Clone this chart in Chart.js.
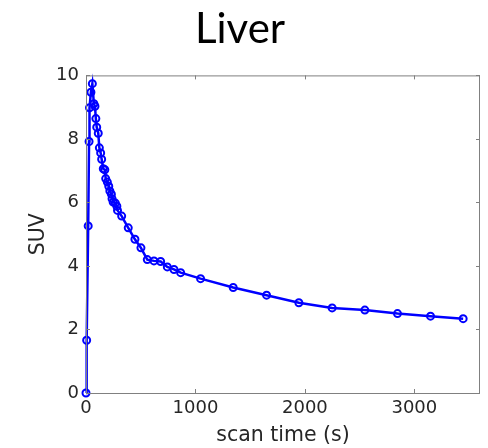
<!DOCTYPE html>
<html>
<head>
<meta charset="utf-8">
<script src="https://cdn.jsdelivr.net/npm/chart.js@4"></script>
<style>
  html, body { margin: 0; padding: 0; background: #fff; }
  #wrap { width: 488px; height: 448px; }
</style>
</head>
<body>
<div id="wrap"><canvas id="c" width="488" height="448"></canvas></div>
<script>
// Liver time-activity curve
const scanTime = [0, 6, 20, 28, 32, 45, 58, 72, 82, 90, 98, 112, 122, 134, 143, 158, 172, 180, 195, 208,
  218, 232, 238, 248, 268, 282, 288, 326, 386, 447, 502, 560, 621, 682, 743, 804, 865,
  1047, 1345, 1650, 1945, 2249, 2548, 2846, 3148, 3446];
const suv = [0, 1.66, 5.26, 7.92, 8.98, 9.47, 9.74, 9.11, 9.03, 8.64, 8.37, 8.18, 7.72, 7.56, 7.36, 7.06, 7.03, 6.75, 6.64, 6.51,
  6.36, 6.26, 6.12, 6.01, 5.98, 5.88, 5.75, 5.57, 5.2, 4.84, 4.57, 4.2, 4.16, 4.14, 3.97, 3.89, 3.79,
  3.6, 3.32, 3.08, 2.84, 2.68, 2.61, 2.5, 2.42, 2.34];
const xTicks = [0, 1000, 2000, 3000];
const yTicks = [0, 2, 4, 6, 8, 10];

const axisColor = '#808080';
const textColor = '#262626';
const tickFont = { family: 'DejaVu Sans', size: 18 };
const labelFont = { family: 'DejaVu Sans', size: 20.5 };

// Box around the plot with inward ticks on all four sides
const boxTicks = {
  id: 'boxTicks',
  afterDraw(chart) {
    const { ctx, chartArea: a, scales: { x, y } } = chart;
    ctx.save();
    ctx.strokeStyle = axisColor;
    ctx.lineWidth = 1;
    ctx.strokeRect(a.left + 0.5, a.top + 0.5, a.right - a.left - 1, a.bottom - a.top);
    const len = 4;
    ctx.beginPath();
    xTicks.forEach(v => {
      const px = Math.round(x.getPixelForValue(v)) + 0.5;
      ctx.moveTo(px, a.bottom); ctx.lineTo(px, a.bottom - len);
      ctx.moveTo(px, a.top); ctx.lineTo(px, a.top + len);
    });
    yTicks.forEach(v => {
      const py = Math.round(y.getPixelForValue(v)) + 0.5;
      ctx.moveTo(a.left, py); ctx.lineTo(a.left + len, py);
      ctx.moveTo(a.right, py); ctx.lineTo(a.right - len, py);
    });
    ctx.stroke();
    ctx.restore();
  }
};

new Chart(document.getElementById('c'), {
  type: 'line',
  data: {
    datasets: [{
      data: scanTime.map((t, i) => ({ x: t, y: suv[i] })),
      borderColor: '#0000ff',
      borderWidth: 2.5,
      pointRadius: 3.5,
      pointBorderWidth: 2,
      pointBorderColor: '#0000ff',
      pointBackgroundColor: 'rgba(255,255,255,0)',
      tension: 0,
      clip: false
    }]
  },
  options: {
    responsive: false,
    animation: false,
    layout: { padding: { top: 0, right: 8, bottom: 0, left: 0 } },
    plugins: {
      legend: { display: false },
      tooltip: { enabled: false },
      title: {
        display: true,
        text: 'Liver',
        color: '#000',
        font: { family: 'Lato', size: 42, weight: 'normal', lineHeight: 1.2 },
        padding: { top: 4, bottom: 21 }
      }
    },
    scales: {
      x: {
        type: 'linear',
        min: 0, max: 3600,
        afterBuildTicks(s) { s.ticks = xTicks.map(v => ({ value: v })); },
        afterFit(s) { s.height = 55; },
        grid: { display: false, drawTicks: false },
        border: { display: false },
        ticks: { color: textColor, font: tickFont, padding: 5, maxRotation: 0,
          callback: v => String(v) },
        title: { display: true, text: 'scan time (s)', color: textColor,
          font: labelFont, padding: { top: 0, bottom: 0 } }
      },
      y: {
        type: 'linear',
        min: 0, max: 10,
        afterBuildTicks(s) { s.ticks = yTicks.map(v => ({ value: v })); },
        afterFit(s) { s.width = 86; },
        grid: { display: false, drawTicks: false },
        border: { display: false },
        ticks: { color: textColor, font: tickFont, padding: 7, callback: v => String(v) },
        title: { display: true, text: 'SUV', color: textColor,
          font: labelFont, padding: { top: 26, bottom: 0 } }
      }
    }
  },
  plugins: [boxTicks]
});
</script>
</body>
</html>
